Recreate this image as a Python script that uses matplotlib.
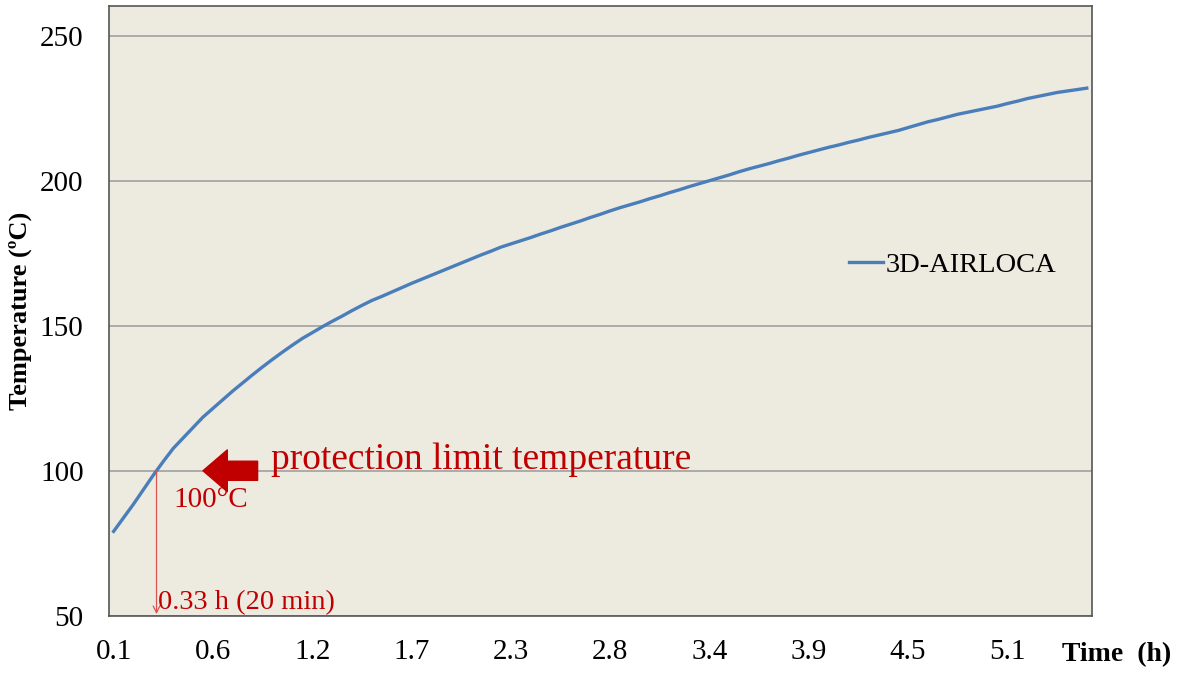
import numpy as np
from matplotlib import pyplot as plt

# Time of each record [h] (one record every 200 s)
time_h = [0.056, 0.111, 0.167, 0.222, 0.278, 0.333, 0.389, 0.444, 0.5, 0.556,
          0.611, 0.667, 0.722, 0.778, 0.833, 0.889, 0.944, 1.0, 1.056, 1.111,
          1.167, 1.222, 1.278, 1.333, 1.389, 1.444, 1.5, 1.556, 1.611, 1.667,
          1.722, 1.778, 1.833, 1.889, 1.944, 2.0, 2.056, 2.111, 2.167, 2.222,
          2.278, 2.333, 2.389, 2.444, 2.5, 2.556, 2.611, 2.667, 2.722, 2.778,
          2.833, 2.889, 2.944, 3.0, 3.056, 3.111, 3.167, 3.222, 3.278, 3.333,
          3.389, 3.444, 3.5, 3.556, 3.611, 3.667, 3.722, 3.778, 3.833, 3.889,
          3.944, 4.0, 4.056, 4.111, 4.167, 4.222, 4.278, 4.333, 4.389, 4.444,
          4.5, 4.556, 4.611, 4.667, 4.722, 4.778, 4.833, 4.889, 4.944, 5.0,
          5.056, 5.111, 5.167, 5.222, 5.278, 5.333, 5.389, 5.444, 5.5]

# 3D-AIRLOCA temperature [C]
temp = [79.1, 83.8, 88.5, 93.5, 98.5, 103.2, 107.7, 111.3, 114.9, 118.5,
        121.5, 124.5, 127.5, 130.3, 133.1, 135.8, 138.4, 140.9, 143.3, 145.6,
        147.6, 149.6, 151.5, 153.3, 155.2, 157.0, 158.7, 160.1, 161.6, 163.1,
        164.6, 166.0, 167.4, 168.8, 170.2, 171.6, 173.0, 174.4, 175.7, 177.1,
        178.2, 179.3, 180.4, 181.6, 182.7, 183.9, 185.0, 186.1, 187.3, 188.4,
        189.6, 190.7, 191.7, 192.7, 193.8, 194.8, 195.9, 196.9, 198.0, 199.0,
        200.0, 201.0, 202.0, 203.1, 204.1, 205.0, 205.9, 206.9, 207.8, 208.8,
        209.7, 210.6, 211.5, 212.3, 213.2, 214.0, 214.9, 215.7, 216.5, 217.3,
        218.3, 219.3, 220.3, 221.1, 222.0, 222.9, 223.6, 224.3, 225.0, 225.7,
        226.6, 227.4, 228.3, 229.0, 229.7, 230.4, 230.9, 231.4, 231.9]

limit_temp = 100
label_step = 10
yticks = [50, 100, 150, 200, 250]

red = '#C00000'
serif = ['Liberation Serif', 'DejaVu Serif']

fig = plt.figure(figsize=(11.81, 6.73), dpi=100)
ax = fig.add_axes([0.092, 0.085, 0.8324, 0.9064])
ax.set_facecolor('#EDEAE0')

# category axis, like the spreadsheet chart
x = np.arange(len(temp))
ax.plot(x, temp, color='#4A7EBB', lw=2.4, label='3D-AIRLOCA', zorder=3)

ax.set_xlim(-0.5, len(temp) - 0.5)
ax.set_ylim(50, 260.3)
ax.set_xticks(x[::label_step])
ax.set_xticklabels(['%.1f' % t for t in time_h[::label_step]])
ax.set_yticks(yticks)
ax.tick_params(length=0, labelsize=21, pad=17)
ax.tick_params(axis='y', pad=18)
for lab in ax.get_xticklabels() + ax.get_yticklabels():
    lab.set_family(serif)

ax.grid(axis='y', color='#A6A6A6', lw=1.3)
ax.set_axisbelow(True)
for sp in ax.spines.values():
    sp.set_color('#555555')
    sp.set_linewidth(1.2)

ax.set_ylabel('Temperature (ºC)', fontsize=19, fontweight='bold', family=serif)
ax.yaxis.set_label_coords(-0.078, 0.5)
fig.text(0.9915, 0.028, 'Time  (h)', fontsize=20, fontweight='bold', family=serif,
         ha='right', va='center')

leg = ax.legend(loc='center left', bbox_to_anchor=(0.753, 0.575), frameon=False,
                prop={'family': serif, 'size': 20.5}, handlelength=1.2,
                handletextpad=0.1, borderpad=0, borderaxespad=0)

# where the curve reaches the protection limit
x_lim = np.interp(limit_temp, temp, x)
ax.annotate('', xy=(x_lim, 50.6), xytext=(x_lim, limit_temp),
            arrowprops=dict(arrowstyle='->', color='#D9534F', lw=0.9,
                            shrinkA=0, shrinkB=0, mutation_scale=12))
ax.annotate('', xy=(9.0, limit_temp), xytext=(14.5, limit_temp),
            arrowprops=dict(arrowstyle='simple,head_length=0.7,head_width=1.2,tail_width=0.55',
                            color=red, shrinkA=0, shrinkB=0, mutation_scale=25))
ax.text(15.8, 103.7, 'protection limit temperature', color=red, fontsize=27,
        family=serif, va='center', ha='left')
ax.text(6.0, 89.8, '100°C', color=red, fontsize=21, family=serif, va='center', ha='left')
ax.text(4.5, 54.5, '0.33 h (20 min)', color=red, fontsize=20.5, family=serif,
        va='center', ha='left')

fig.savefig('out.png', dpi=100)
